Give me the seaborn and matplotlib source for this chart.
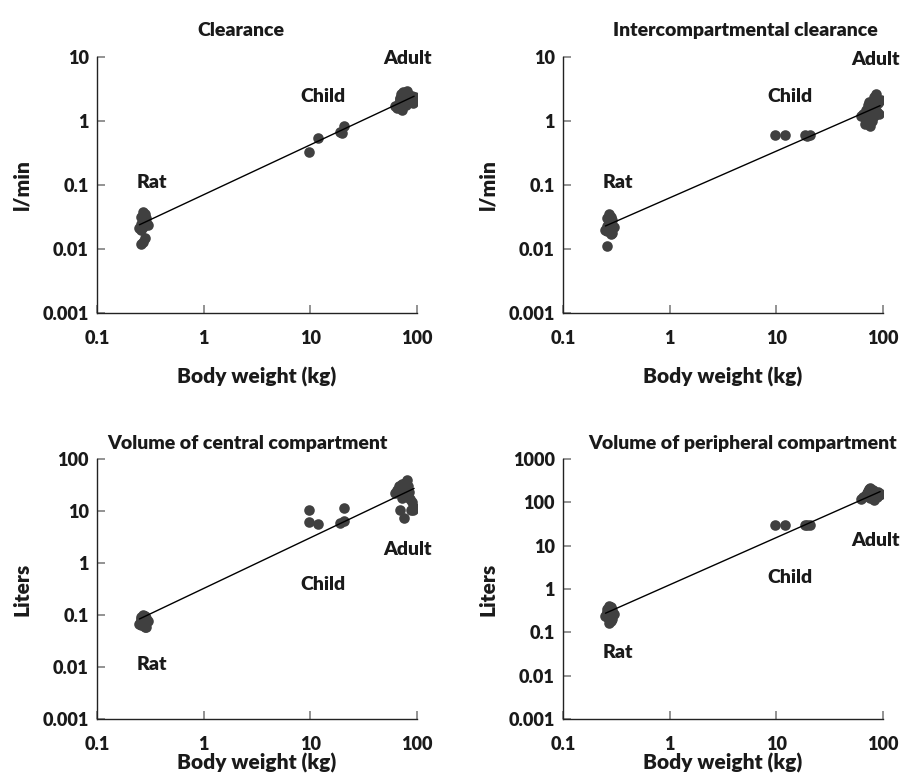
import numpy as np
import pandas as pd
import seaborn as sns
from matplotlib import pyplot as plt
from matplotlib.ticker import FixedLocator, FixedFormatter

sns.set_style("ticks")
plt.rcParams['font.family'] = ['Lato', 'DejaVu Sans']
plt.rcParams['font.weight'] = 'heavy'

# body weights (kg)
rat_w = [0.27, 0.28, 0.26, 0.29, 0.27, 0.28, 0.26, 0.30, 0.27, 0.25, 0.26, 0.29, 0.28, 0.27, 0.26]
child_w = [9.7, 11.8, 18.9, 20.6, 19.6]
child_w_ic = [9.7, 12.0, 18.5, 19.5, 20.5]
child_w_v1 = [9.7, 9.7, 11.8, 18.9, 20.6, 20.6]
adult_w = [62, 65, 68, 70, 71, 72, 73, 74, 75, 76, 77, 78, 79, 80, 81, 82, 83, 85, 86, 88, 90, 92, 95, 70]

# clearance (l/min)
cl_rat = [0.038, 0.035, 0.032, 0.030, 0.028, 0.027, 0.025, 0.024, 0.022, 0.021, 0.020, 0.026, 0.015, 0.013, 0.012]
cl_child = [0.33, 0.54, 0.68, 0.83, 0.64]
cl_adult = [1.7, 1.6, 1.9, 2.2, 2.6, 2.0, 1.5, 2.8, 2.4, 2.1, 2.7, 2.3, 1.8, 2.5, 2.9, 2.2, 2.6, 2.0, 2.4, 2.3, 2.5, 1.9, 2.4, 2.3]

# intercompartmental clearance (l/min)
ic_rat = [0.035, 0.032, 0.030, 0.028, 0.026, 0.025, 0.023, 0.022, 0.021, 0.020, 0.019, 0.018, 0.017, 0.024, 0.011]
ic_child = [0.60, 0.60, 0.60, 0.59, 0.60]
ic_adult = [1.2, 1.3, 0.9, 1.5, 1.1, 1.8, 1.4, 2.0, 0.85, 1.6, 1.3, 1.7, 1.0, 1.9, 1.5, 2.4, 1.2, 1.6, 2.6, 1.4, 1.9, 1.3, 2.1, 1.0]

# volume of central compartment (l)
v1_rat = [0.10, 0.095, 0.09, 0.088, 0.085, 0.08, 0.078, 0.075, 0.07, 0.068, 0.065, 0.06, 0.058, 0.092, 0.082]
v1_child = [10.5, 6.2, 5.6, 5.9, 11.4, 6.3]
v1_adult = [22, 25, 30, 10.5, 28, 33, 18, 20, 7.3, 32, 24, 35, 26, 40, 27, 19, 30, 23, 17, 10.5, 15, 10.5, 11.4, 30]

# volume of peripheral compartment (l)
v2_rat = [0.40, 0.38, 0.35, 0.33, 0.32, 0.30, 0.28, 0.27, 0.25, 0.24, 0.22, 0.20, 0.18, 0.16, 0.30]
v2_child = [30, 30, 30, 30, 30]
v2_adult = [120, 130, 140, 150, 160, 170, 180, 200, 210, 125, 135, 145, 155, 165, 190, 115, 140, 150, 160, 130, 175, 145, 155, 140]

# allometric lines: value at 1 kg, exponent
line_w = [0.25, 94]
fits = {'cl': (0.0705, 0.78), 'ic': (0.063, 0.73), 'v1': (0.324, 0.975), 'v2': (1.25, 1.09)}

panels = [
    dict(key='cl', title='Clearance', ylabel='l/min', child_w=child_w,
         vals=(cl_rat, cl_child, cl_adult), ylim=(0.001, 10),
         yticks=[0.001, 0.01, 0.1, 1, 10], yticklabels=['0.001', '0.01', '0.1', '1', '10'],
         labels={'Rat': (0.33, 0.11), 'Child': (13, 2.4), 'Adult': (82, 9.6)},
         pos=[97, 57, 320, 256], title_x=0.45, title_pad=15, xlab_y=-0.211),
    dict(key='ic', title='Intercompartmental clearance', ylabel='l/min', child_w=child_w_ic,
         vals=(ic_rat, ic_child, ic_adult), ylim=(0.001, 10),
         yticks=[0.001, 0.01, 0.1, 1, 10], yticklabels=['0.001', '0.01', '0.1', '1', '10'],
         labels={'Rat': (0.33, 0.11), 'Child': (13.4, 2.4), 'Adult': (85, 9.0)},
         pos=[563, 57, 320, 256], title_x=0.57, title_pad=15, xlab_y=-0.211),
    dict(key='v1', title='Volume of central compartment', ylabel='Liters', child_w=child_w_v1,
         vals=(v1_rat, v1_child, v1_adult), ylim=(0.001, 100),
         yticks=[0.001, 0.01, 0.1, 1, 10, 100], yticklabels=['0.001', '0.01', '0.1', '1', '10', '100'],
         labels={'Rat': (0.33, 0.011), 'Child': (13, 0.38), 'Adult': (82, 1.8)},
         pos=[97, 459, 320, 260], title_x=0.47, title_pad=7, xlab_y=-0.131),
    dict(key='v2', title='Volume of peripheral compartment', ylabel='Liters', child_w=child_w_ic,
         vals=(v2_rat, v2_child, v2_adult), ylim=(0.001, 1000),
         yticks=[0.001, 0.01, 0.1, 1, 10, 100, 1000],
         yticklabels=['0.001', '0.01', '0.1', '1', '10', '100', '1000'],
         labels={'Rat': (0.33, 0.035), 'Child': (13.4, 1.8), 'Adult': (85, 13.5)},
         pos=[563, 459, 320, 260], title_x=0.56, title_pad=7, xlab_y=-0.131),
]

W, H = 909, 779
fig = plt.figure(figsize=(W / 100, H / 100), dpi=100)
dot = '#404040'

for p in panels:
    x0, y0, w, h = p['pos']
    ax = fig.add_axes([x0 / W, 1 - (y0 + h) / H, w / W, h / H])
    rat, child, adult = p['vals']
    df = pd.DataFrame({'w': rat_w + p['child_w'] + adult_w,
                       'v': rat + child + adult})
    sns.scatterplot(data=df, x='w', y='v', ax=ax, color=dot, s=58, linewidth=0, zorder=2)
    a, b = fits[p['key']]
    lw = np.array(line_w)
    sns.lineplot(x=lw, y=a * lw ** b, ax=ax, color='black', linewidth=1, zorder=3)
    ax.set_xscale('log')
    ax.set_yscale('log')
    ax.set_xlim(0.1, 100)
    ax.set_ylim(*p['ylim'])
    ax.xaxis.set_major_locator(FixedLocator([0.1, 1, 10, 100]))
    ax.xaxis.set_major_formatter(FixedFormatter(['0.1', '1', '10', '100']))
    ax.yaxis.set_major_locator(FixedLocator(p['yticks']))
    ax.yaxis.set_major_formatter(FixedFormatter(p['yticklabels']))
    ax.minorticks_off()
    ax.tick_params(direction='in', length=6, width=1.2, color='#808080',
                   labelsize=13, labelcolor='#1a1a1a')
    ax.tick_params(axis='x', pad=12)
    ax.tick_params(axis='y', pad=6)
    for s in ['top', 'right']:
        ax.spines[s].set_visible(False)
    for s in ['left', 'bottom']:
        ax.spines[s].set_color('#222222')
        ax.spines[s].set_linewidth(1)
    ax.set_xlabel('Body weight (kg)', fontsize=15, fontweight='heavy', color='#1a1a1a')
    ax.xaxis.set_label_coords(0.5, p['xlab_y'])
    ax.set_ylabel(p['ylabel'], fontsize=15, fontweight='heavy', color='#1a1a1a')
    ax.yaxis.set_label_coords(-66 / w, 0.5)
    ax.set_title(p['title'], fontsize=14, fontweight='heavy', color='#1a1a1a',
                 pad=p['title_pad'], x=p['title_x'])
    for txt, (tx, ty) in p['labels'].items():
        ax.text(tx, ty, txt, ha='center', va='center', fontsize=14, fontweight='heavy',
                color='#1a1a1a', zorder=4)

fig.savefig('out.png', dpi=100)
